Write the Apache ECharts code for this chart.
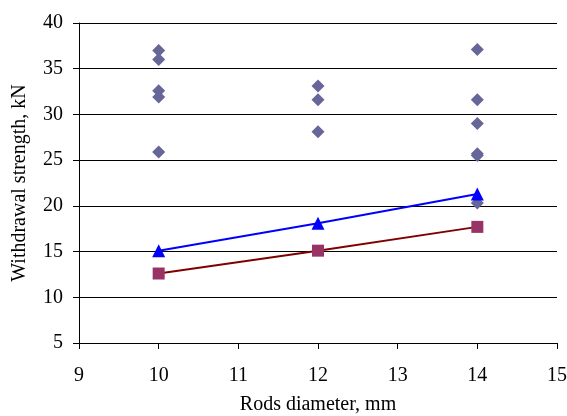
<!DOCTYPE html>
<html>
<head>
<meta charset="utf-8">
<script src="https://cdn.jsdelivr.net/npm/echarts@6/dist/echarts.min.js"></script>
<style>
html,body{margin:0;padding:0;background:#fff;}
#chart{width:567px;height:416px;}
</style>
</head>
<body>
<div id="chart"></div>
<script>
// Data
var measuredX = [10, 10, 10, 10, 10, 12, 12, 12, 14, 14, 14, 14, 14, 14];
var measuredY = [37.0, 36.0, 32.6, 31.9, 25.9, 33.1, 31.6, 28.1, 37.1, 31.6, 29.0, 25.7, 25.5, 20.3];
var diameters = [10, 12, 14];
var upperModel = [15.1, 18.1, 21.3];
var lowerModel = [12.6, 15.1, 17.7];
var xTicks = {min: 9, max: 15, interval: 1};
var yTicks = {min: 5, max: 40, interval: 5};

function pairs(xs, ys) { return xs.map(function (x, i) { return [x, ys[i]]; }); }

var font = 'Liberation Serif, Times New Roman, serif';
var chart = echarts.init(document.getElementById('chart'), null, {renderer: 'canvas'});
chart.setOption({
  animation: false,
  backgroundColor: '#ffffff',
  grid: {left: 79, right: 10, top: 23, bottom: 73, containLabel: false, outerBoundsMode: 'none'},
  xAxis: {
    type: 'value', min: xTicks.min, max: xTicks.max, interval: xTicks.interval,
    name: 'Rods diameter, mm', nameLocation: 'middle', nameGap: 52,
    nameTextStyle: {fontFamily: font, fontSize: 20, color: '#000'},
    axisLine: {show: true, lineStyle: {color: '#000', width: 1}},
    axisTick: {show: true, inside: false, length: 6, lineStyle: {color: '#000'}},
    axisLabel: {fontFamily: font, fontSize: 20, color: '#000', margin: 23},
    splitLine: {show: false}
  },
  yAxis: {
    type: 'value', min: yTicks.min, max: yTicks.max, interval: yTicks.interval,
    name: 'Withdrawal strength, kN', nameLocation: 'middle', nameGap: 49,
    nameTextStyle: {fontFamily: font, fontSize: 20, color: '#000'},
    axisLine: {show: true, lineStyle: {color: '#000', width: 1}},
    axisTick: {show: true, inside: false, length: 6, lineStyle: {color: '#000'}},
    axisLabel: {fontFamily: font, fontSize: 20, color: '#000', margin: 16},
    splitLine: {show: true, lineStyle: {color: '#000', width: 1}}
  },
  series: [
    {
      type: 'scatter', data: pairs(measuredX, measuredY),
      symbol: 'diamond', symbolSize: 13,
      itemStyle: {color: '#666699', opacity: 1}, z: 2
    },
    {
      type: 'line', data: pairs(diameters, lowerModel),
      symbol: 'rect', symbolSize: 12, showAllSymbol: true,
      lineStyle: {color: '#800000', width: 2},
      itemStyle: {color: '#993366', opacity: 1}, z: 3
    },
    {
      type: 'line', data: pairs(diameters, upperModel),
      symbol: 'triangle', symbolSize: 13, showAllSymbol: true,
      lineStyle: {color: '#0000ff', width: 2},
      itemStyle: {color: '#0000ff', opacity: 1}, z: 4
    }
  ]
});
</script>
</body>
</html>
